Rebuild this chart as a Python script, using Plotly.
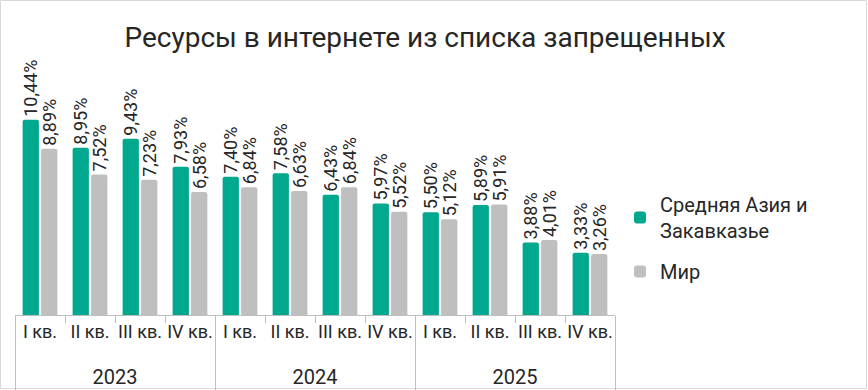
import plotly.graph_objects as go

years = ["2023"] * 4 + ["2024"] * 4 + ["2025"] * 4
quarters = ["I кв.", "II кв.", "III кв.", "IV кв."] * 3
asia = [10.44, 8.95, 9.43, 7.93, 7.40, 7.58, 6.43, 5.97, 5.50, 5.89, 3.88, 3.33]
world = [8.89, 7.52, 7.23, 6.58, 6.84, 6.63, 6.84, 5.52, 5.12, 5.91, 4.01, 3.26]
series_names = ["Средняя Азия и<br>Закавказье", "Мир"]
title = "Ресурсы в интернете из списка запрещенных"

FONT = "Roboto, Inter, sans-serif"
GREEN = "#00A88E"
GREY = "#BFBFBF"
TXT = "#262626"

def fmt(v):
    return f"{v:.2f}".replace(".", ",") + "%"

# push year row down by one line (outer category label), slightly larger font
year_labels = ["<br><span style='font-size:20px'>" + y + "</span>" for y in years]

fig = go.Figure()
for i, (name, vals, col) in enumerate([(series_names[0], asia, GREEN), (series_names[1], world, GREY)]):
    fig.add_trace(go.Bar(
        x=[year_labels, quarters], y=vals, name=name, legendgroup=f"g{i}",
        marker=dict(color=col, cornerradius=2, line=dict(width=0)),
        text=[fmt(v) for v in vals], textposition="outside", textangle=-90,
        constraintext="none", hoverinfo="skip",
        textfont=dict(size=18, color=TXT, family=FONT), cliponaxis=False,
    ))

L, R, T, B = 15, 253, 72, 75
W, H = 868, 390
pw, ph = W - L - R, H - T - B

fig.update_layout(
    width=W, height=H, margin=dict(l=L, r=R, t=T, b=B, autoexpand=False),
    paper_bgcolor="white", plot_bgcolor="white",
    barmode="group", bargap=0.26, bargroupgap=0.12,
    title=dict(text=title, x=425 / W, xanchor="center", y=1 - 37 / H, yanchor="middle",
               font=dict(size=28, color=TXT, family=FONT)),
    legend=dict(x=(620 - L) / pw, xanchor="left", y=(315 - 238) / ph, yanchor="middle",
                font=dict(size=20, color=TXT, family=FONT), tracegroupgap=12,
                traceorder="grouped", itemwidth=30, bgcolor="rgba(0,0,0,0)"),
    showlegend=True,
    font=dict(family=FONT, color=TXT),
)
fig.update_xaxes(type="multicategory", showline=True, linecolor=GREY, linewidth=1,
                 ticks="outside", tickson="boundaries", ticklen=7, tickcolor=GREY,
                 tickangle=0,
                 showdividers=True, dividercolor=GREY, dividerwidth=1,
                 tickfont=dict(size=18, color=TXT, family=FONT), automargin=False)
fig.update_yaxes(range=[0, 13], visible=False, showgrid=False, zeroline=False)

fig.add_shape(type="rect", xref="paper", yref="paper",
              x0=(0.5 - L) / pw, x1=(W - 1.5 - L) / pw,
              y0=(H - B - (H - 1.5)) / ph, y1=(H - B - 0.5) / ph,
              line=dict(color="#D9D9D9", width=1), layer="below")

fig.write_html("out.html", config={"displayModeBar": False},
               post_script="document.body.style.margin='0';")
